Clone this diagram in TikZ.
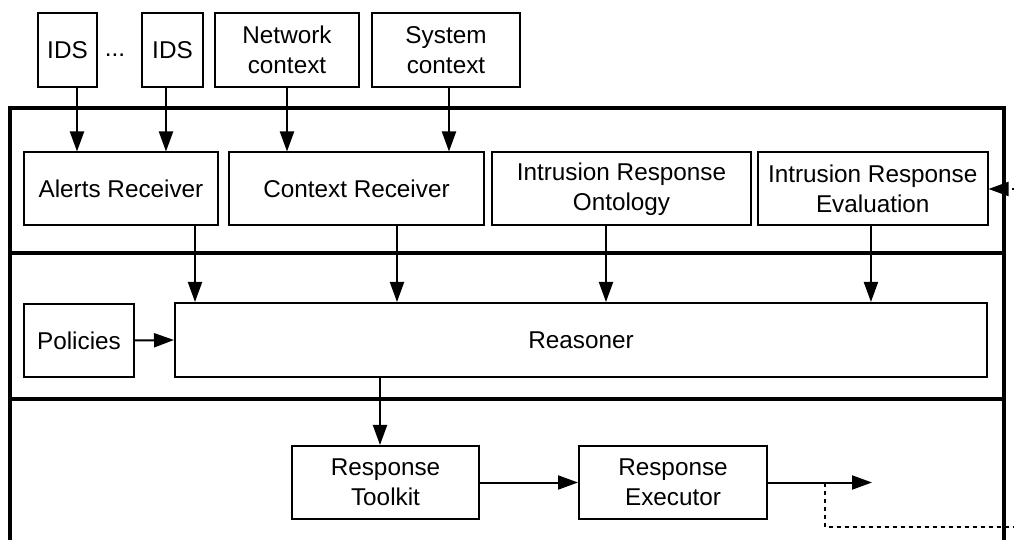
\documentclass[tikz,border=0pt]{standalone}
\usepackage{fontspec}
\setmainfont{Liberation Sans}
\usetikzlibrary{arrows.meta, positioning, calc}

\begin{document}
\begin{tikzpicture}[x=0.5pt, y=-0.5pt,
    every node/.style={font=\fontsize{12.15}{15}\selectfont},
    blk/.style={draw, line width=1pt, align=center, inner sep=0pt, minimum height=36.5pt},
    arr/.style={-{Triangle[length=10pt,width=7pt]}, line width=1pt},
    frame/.style={line width=2pt},
    fb/.style={line width=1pt, dash pattern=on 2pt off 2pt}]
    \useasboundingbox (0,0) rectangle (1014,540);
    \clip (0,0) rectangle (1014,540);

    % --- Sources ---
    \node[blk, minimum width=29.5pt, minimum height=37pt] (ids1) at (67.5,50) {IDS};
    \node[anchor=base] (dots) at (115,57) {...};
    \node[blk, minimum width=30.5pt, minimum height=37pt] (ids2) at (172.5,50) {IDS};
    \node[blk, minimum width=72pt, minimum height=37pt] (netctx) at (287,50) {Network\\context};
    \node[blk, minimum width=74pt, minimum height=37pt] (sysctx) at (446,50) {System\\context};

    % --- Layer frames ---
    \draw[frame] (10,108) rectangle (1004,253);
    \draw[frame] (10,253) rectangle (1004,399);
    \draw[frame] (10,560) -- (10,399) -- (1004,399) -- (1004,560); % open at the bottom

    % --- Input layer ---
    \node[blk, minimum width=97pt] (alerts) at (121,189) {Alerts Receiver};
    \node[blk, minimum width=127.5pt] (ctxrcv) at (356.5,189) {Context Receiver};
    \node[blk, minimum width=129.5pt] (onto) at (621.5,189) {Intrusion Response\\Ontology};
    \node[blk, minimum width=114.75pt] (eval) at (872.75,189) {Intrusion Response\\Evaluation};

    % --- Decision layer ---
    \node[blk, minimum width=55pt] (policies) at (79,340.5) {Policies};
    \node[blk, minimum width=406pt, minimum height=37pt] (reasoner) at (581,340) {Reasoner};

    % --- Action layer ---
    \node[blk, minimum width=93.5pt] (toolkit) at (385.5,482.5) {Response\\Toolkit};
    \node[blk, minimum width=94pt] (executor) at (673,482.5) {Response\\Executor};

    % Sources -> receivers
    \draw[arr] ([xshift=4.75pt]ids1.south) coordinate (a1) -- (a1 |- alerts.north);
    \draw[arr] ([xshift=-3.25pt]ids2.south) coordinate (a2) -- (a2 |- alerts.north);
    \draw[arr] (netctx.south) -- (netctx.south |- ctxrcv.north);
    \draw[arr] ([xshift=1.5pt]sysctx.south) coordinate (a3) -- (a3 |- ctxrcv.north);

    % Input layer -> reasoner
    \draw[arr] ([xshift=37pt]alerts.south) coordinate (b1) -- (b1 |- reasoner.north);
    \draw[arr] ([xshift=20.25pt]ctxrcv.south) coordinate (b2) -- (b2 |- reasoner.north);
    \draw[arr] ([xshift=-7.75pt]onto.south) coordinate (b3) -- (b3 |- reasoner.north);
    \draw[arr] ([xshift=-0.9pt]eval.south) coordinate (b4) -- (b4 |- reasoner.north);
    \draw[arr] (policies.east) -- (reasoner.west);

    % Reasoner -> actions
    \draw[arr] ([xshift=-100.5pt]reasoner.south) coordinate (c1) -- (c1 |- toolkit.north);
    \draw[arr] (toolkit.east) -- (executor.west);
    \coordinate (exout) at (872,482.5);
    \draw[arr] (executor.east) -- (exout);

    % Feedback loop (dashed)
    \coordinate (fbsplit) at (825,482.5);
    \coordinate (fbbot) at (825,527);
    \coordinate (fbright) at (1040,527);
    \coordinate (fbin) at (1040,189);
    \draw[fb] (fbsplit) -- (fbbot) -- (fbright);
    \draw[fb, arr] (fbin) -- (eval.east);
\end{tikzpicture}
\end{document}
